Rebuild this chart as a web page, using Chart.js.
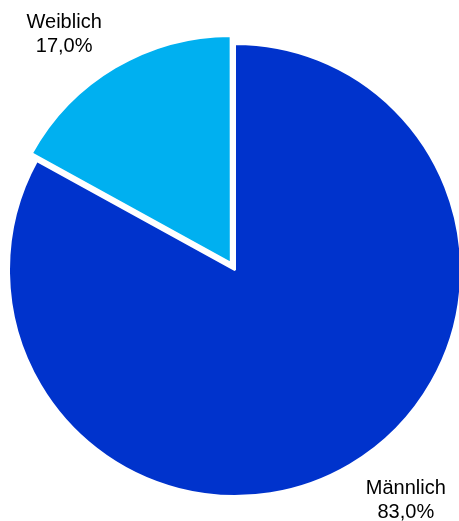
<!DOCTYPE html>
<html lang="de">
<head>
    <meta charset="UTF-8">
    <title>Geschlecht</title>
    <script src="https://cdn.jsdelivr.net/npm/chart.js"></script>
    <style>
        * {
            padding: 0;
            margin: 0;
        }
        body {
            background-color: #ffffff;
        }
        canvas {
            display: block;
        }
    </style>
</head>
<body>
    <canvas id="pieChart" width="459" height="521"></canvas>
    <script>
        // Anteile nach Geschlecht (in %)
        const categories = ['Männlich', 'Weiblich'];
        const shares = [83.0, 17.0];
        const sliceColors = ['#0033CC', '#00B0F0'];
        const sliceOffsets = [0, 33];

        function formatPercent(v) {
            return v.toFixed(1).replace('.', ',') + '%';
        }

        // Beschriftung ausserhalb der Segmente: Name und Prozentwert
        const outsideLabels = {
            id: 'outsideLabels',
            afterDatasetsDraw(chart, args, opts) {
                const ctx = chart.ctx;
                const meta = chart.getDatasetMeta(0);
                ctx.save();
                ctx.font = opts.font;
                ctx.fillStyle = opts.color;
                ctx.textAlign = 'center';
                ctx.textBaseline = 'alphabetic';
                meta.data.forEach((arc, i) => {
                    const mid = (arc.startAngle + arc.endAngle) / 2 + opts.angleShift;
                    const dist = arc.outerRadius * opts.distance;
                    const cx = arc.x + Math.cos(mid) * dist;
                    const cy = arc.y + Math.sin(mid) * dist + opts.yShift;
                    ctx.fillText(categories[i], cx, cy - opts.lineHeight / 2 + opts.capShift);
                    ctx.fillText(formatPercent(shares[i]), cx, cy + opts.lineHeight / 2 + opts.capShift);
                });
                ctx.restore();
            }
        };

        const ctx = document.getElementById('pieChart').getContext('2d');
        new Chart(ctx, {
            type: 'pie',
            data: {
                labels: categories,
                datasets: [{
                    data: shares,
                    backgroundColor: sliceColors,
                    borderColor: '#ffffff',
                    borderWidth: 2,
                    offset: sliceOffsets
                }]
            },
            options: {
                responsive: false,
                animation: false,
                radius: 226,
                layout: {
                    padding: { left: 11, right: 0, top: 46, bottom: 27 }
                },
                plugins: {
                    legend: { display: false },
                    tooltip: { enabled: false },
                    outsideLabels: {
                        font: '20px "Liberation Sans", Arial, sans-serif',
                        color: '#000000',
                        lineHeight: 24,
                        capShift: 7,
                        distance: 1.28,
                        angleShift: -5.6 * Math.PI / 180,
                        yShift: -4
                    }
                }
            },
            plugins: [outsideLabels]
        });
    </script>
</body>
</html>
